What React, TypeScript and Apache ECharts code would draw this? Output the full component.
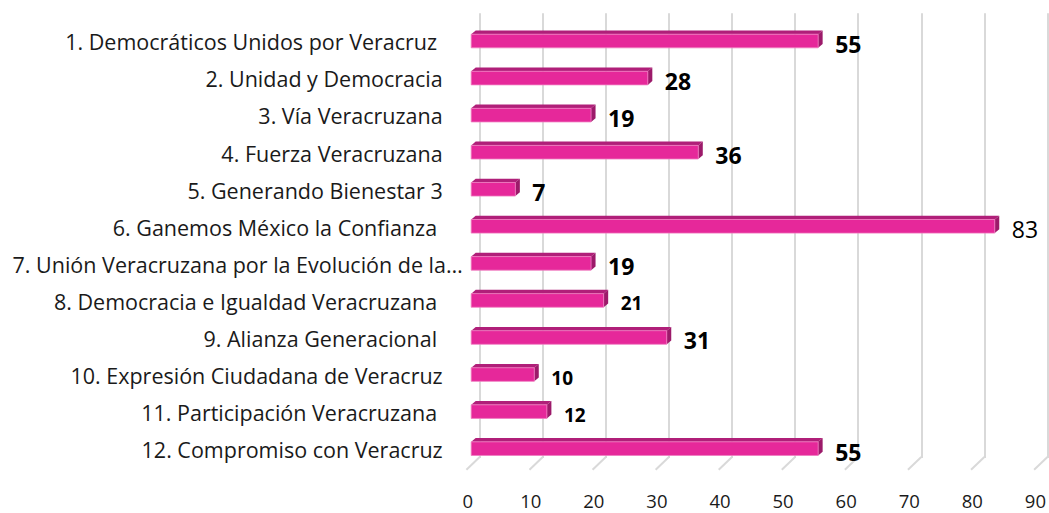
import React, { useEffect, useRef } from "react";
import * as echarts from "echarts";

const categories = [
  "1. Democráticos Unidos por Veracruz ",
  "2. Unidad y Democracia",
  "3. Vía Veracruzana",
  "4. Fuerza Veracruzana",
  "5. Generando Bienestar 3",
  "6. Ganemos México la Confianza ",
  "7. Unión Veracruzana por la Evolución de la…",
  "8. Democracia e Igualdad Veracruzana ",
  "9. Alianza Generacional ",
  "10. Expresión Ciudadana de Veracruz",
  "11. Participación Veracruzana ",
  "12. Compromiso con Veracruz",
];
const values = [55, 28, 19, 36, 7, 83, 19, 21, 31, 10, 12, 55];
const xTicks = [0, 10, 20, 30, 40, 50, 60, 70, 80, 90];

// label styling (not data)
const smallLabelIdx = [7, 9, 10];
const lightLabelIdx = [5];
const truncatedIdx = [6];

const FONT = "Open Sans";

export default function App() {
  const ref = useRef<HTMLDivElement>(null);
  useEffect(() => {
    if (!ref.current) return;
    const chart = echarts.init(ref.current, null, { renderer: "svg" });
    const FX = -8.5; // bar front offset x
    const FY = 9.2; // bar front offset y
    const H = 13.6;
    const DX = 4.5;
    const DY = -3.8;
    chart.setOption({
      animation: false,
      grid: { left: 479.7, right: 1.4, top: 13.3, bottom: 55, containLabel: false },
      xAxis: {
        type: "value",
        min: 0,
        max: 90,
        interval: 10,
        axisLine: { show: false },
        axisTick: { show: false },
        splitLine: { show: true, lineStyle: { color: "#D9D9D9", width: 2 } },
        axisLabel: {
          margin: 33,
          color: "#1a1a1a",
          fontFamily: FONT,
          fontSize: 18.5,
          padding: [0, 24, 0, 0],
        },
      },
      yAxis: {
        type: "category",
        inverse: true,
        data: categories,
        axisLine: { show: false },
        axisTick: { show: false },
        splitLine: { show: false },
        axisLabel: {
          margin: 17,
          formatter: (v: string, idx: number) =>
            truncatedIdx.includes(idx) ? `{b|${v}}` : `{a|${v}}`,
          rich: {
            a: { fontFamily: FONT, fontSize: 21.5, color: "#1a1a1a", padding: [20, 20, 0, 0] },
            b: { fontFamily: FONT, fontSize: 21.5, color: "#1a1a1a", padding: [20, 0, 0, 0] },
          },
        },
      },
      series: [
        {
          type: "custom",
          data: xTicks.map((t) => [t, 0]),
          encode: { x: 0, y: 1 },
          silent: true,
          z: 1,
          renderItem: (params: any, api: any) => {
            const p = api.coord([api.value(0), 0]);
            const cs = params.coordSys;
            const yb = cs.y + cs.height;
            return {
              type: "line",
              shape: { x1: p[0], y1: yb - 1, x2: p[0] - 13.3, y2: yb + 11.7 },
              style: { stroke: "#D9D9D9", lineWidth: 2 },
            };
          },
        },
        {
          type: "custom",
          data: values.map((v, i) => [v, i]),
          encode: { x: 0, y: 1 },
          z: 3,
          renderItem: (params: any, api: any) => {
            const v = api.value(0);
            const i = api.value(1);
            const p0 = api.coord([0, i]);
            const p1 = api.coord([v, i]);
            const x0 = p0[0] + FX;
            const x1 = p1[0] + FX;
            const cy = p0[1] + FY;
            const top = cy - H / 2;
            const bot = cy + H / 2;
            const small = smallLabelIdx.includes(i);
            const light = lightLabelIdx.includes(i);
            return {
              type: "group",
              children: [
                {
                  type: "polygon",
                  shape: { points: [[x0, top], [x0 + DX, top + DY], [x1 + DX, top + DY], [x1, top]] },
                  style: { fill: "#B01F79" },
                },
                {
                  type: "polygon",
                  shape: { points: [[x1, top], [x1 + DX, top + DY], [x1 + DX, bot + DY], [x1, bot]] },
                  style: { fill: "#9C1A6A" },
                },
                {
                  type: "rect",
                  shape: { x: x0, y: top, width: x1 - x0, height: H },
                  style: { fill: "#E6289A", stroke: "#F07CC0", lineWidth: 0.8 },
                },
                {
                  type: "text",
                  style: {
                    text: String(v),
                    x: x1 + DX + 12.5,
                    y: cy + 3,
                    align: "left",
                    verticalAlign: "middle",
                    fontFamily: FONT,
                    fontSize: small ? 19 : 23,
                    fontWeight: light ? "normal" : "bold",
                    fill: "#000000",
                  },
                },
              ],
            };
          },
        },
      ],
    });
    return () => chart.dispose();
  }, []);
  return (
    <div
      ref={ref}
      style={{ position: "absolute", left: 0, top: 0, width: 1049, height: 513, background: "#fff" }}
    />
  );
}
